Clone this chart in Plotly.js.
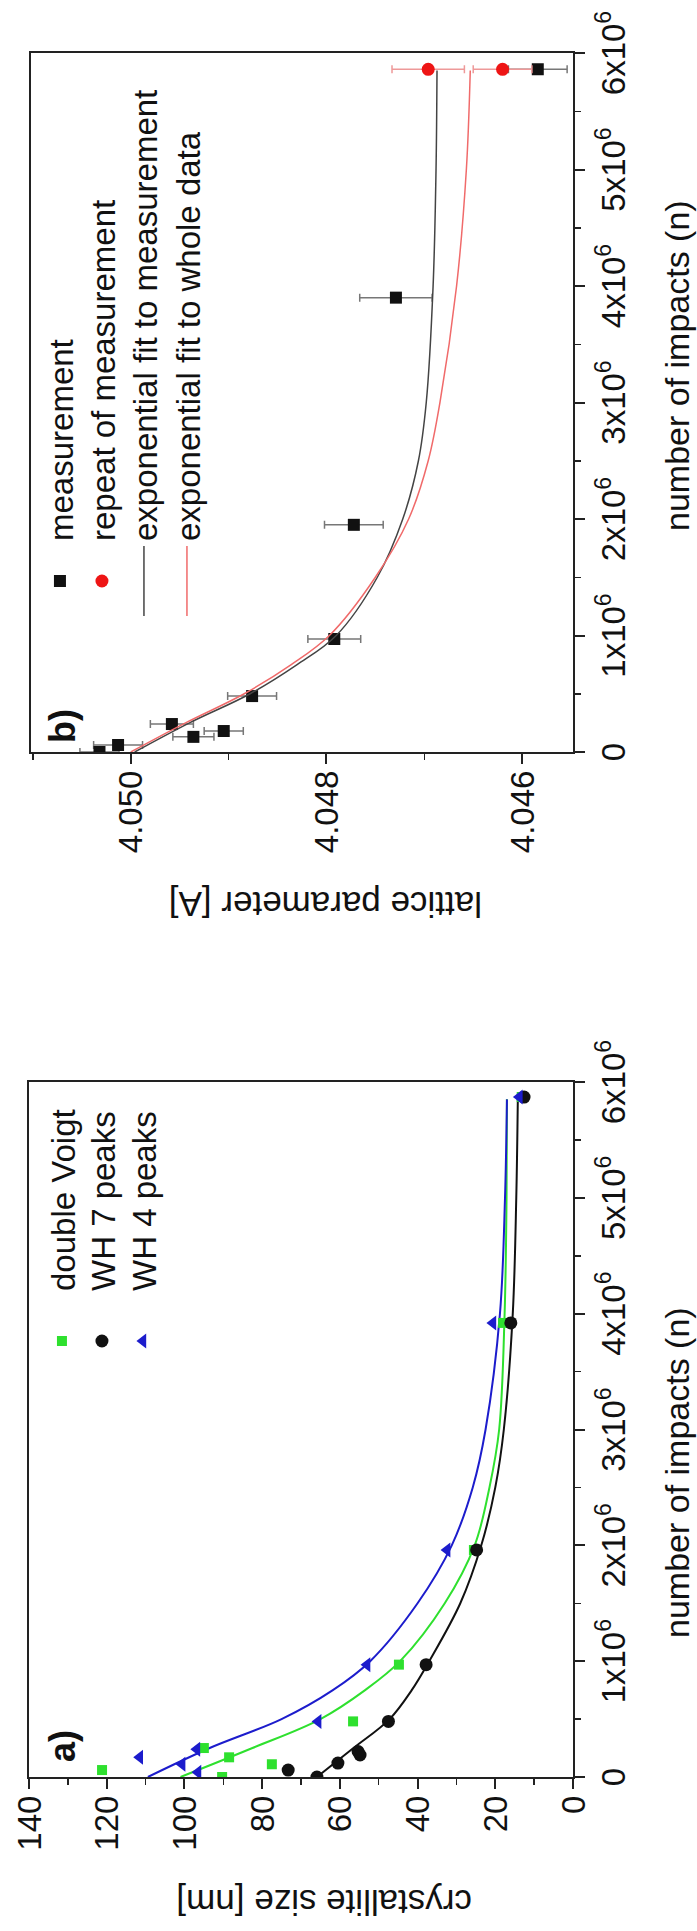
<!DOCTYPE html>
<html>
<head>
<meta charset="utf-8">
<script src="https://cdn.plot.ly/plotly-3.0.1.min.js"></script>
<style>
  html, body { margin: 0; padding: 0; background: #ffffff; overflow: hidden; }
  #wrap { position: absolute; left: 0; top: 0; width: 697px; height: 1931px; overflow: hidden; }
  #chart { position: absolute; left: 0; top: 0; width: 1931px; height: 697px;
           transform-origin: 0 0; transform: translateY(1931px) rotate(-90deg); }
</style>
</head>
<body>
<div id="wrap"><div id="chart"></div></div>
<script>
// ---------- panel a) crystallite size ----------
const dvX  = [0, 0.06e6, 0.11e6, 0.17e6, 0.25e6, 0.48e6, 0.97e6, 1.96e6, 3.92e6, 5.87e6];
const dvY  = [90.3, 121.2, 77.5, 88.5, 95.0, 56.6, 44.8, 25.5, 18.0, 13.2];
const wh7X = [0, 0.06e6, 0.12e6, 0.19e6, 0.22e6, 0.48e6, 0.97e6, 1.96e6, 3.92e6, 5.87e6];
const wh7Y = [65.9, 73.3, 60.5, 54.8, 55.3, 47.5, 37.8, 24.8, 16.0, 12.6];
const wh4X = [0.04e6, 0.11e6, 0.17e6, 0.24e6, 0.48e6, 0.97e6, 1.96e6, 3.92e6, 5.87e6];
const wh4Y = [96.5, 100.6, 111.5, 96.8, 65.6, 53.0, 32.4, 20.6, 13.8];

// fitted curves
const fitX    = [0, 0.25e6, 0.5e6, 0.75e6, 1e6, 1.5e6, 2e6, 2.5e6, 3e6, 4e6, 5e6, 5.85e6];
const fitDvY  = [101.0, 82.5, 65.0, 53.5, 44.5, 33.0, 25.3, 21.5, 19.0, 17.6, 17.1, 17.0];
const fitWh7Y = [65.9, 56.5, 47.2, 41.5, 37.0, 29.0, 23.6, 20.0, 17.8, 15.5, 14.6, 14.2];
const fitWh4Y = [109.4, 93.5, 75.0, 61.8, 52.2, 40.0, 31.2, 25.8, 22.5, 18.8, 17.5, 17.0];

// ---------- panel b) lattice parameter ----------
const measX   = [0, 0.06e6, 0.13e6, 0.18e6, 0.24e6, 0.48e6, 0.97e6, 1.95e6, 3.90e6, 5.86e6];
const measY   = [4.05032, 4.05013, 4.04936, 4.04905, 4.04958, 4.04876, 4.04792, 4.04772, 4.04729, 4.04584];
const measErr = [0.00020, 0.00025, 0.00021, 0.00020, 0.00022, 0.00025, 0.00027, 0.00030, 0.00037, 0.00030];
const repX    = [5.86e6, 5.86e6];
const repY    = [4.04696, 4.04620];
const repErr  = [0.00037, 0.00030];
const fitMeasY  = [4.04996, 4.04940, 4.04878, 4.04830, 4.04790, 4.04748, 4.04722, 4.04706, 4.04698, 4.04691, 4.04688, 4.04687];
const fitWholeY = [4.05000, 4.04944, 4.04884, 4.04836, 4.04797, 4.04750, 4.04716, 4.04696, 4.04684, 4.04667, 4.04657, 4.04653];

// tick labels and legend texts
const xTickVals = [0, 1e6, 2e6, 3e6, 4e6, 5e6, 6e6];
const xTickText = ['0', '1x10<sup>6</sup>', '2x10<sup>6</sup>', '3x10<sup>6</sup>', '4x10<sup>6</sup>', '5x10<sup>6</sup>', '6x10<sup>6</sup>'];
const aYTickVals = [0, 20, 40, 60, 80, 100, 120, 140];
const bYTickVals = [4.046, 4.048, 4.050];
const bYTickText = ['4.046', '4.048', '4.050'];
const legendA = ['double Voigt', 'WH 7 peaks', 'WH 4 peaks'];
const legendB = ['measurement', 'repeat of measurement', 'exponential fit to measurement', 'exponential fit to whole data'];

const FONT = 'Liberation Sans, Arial, Helvetica, sans-serif';
const W = 1931, H = 697;
const GREEN = '#2ee02e', BLACK = '#111111', BLUE = '#1c1ccc', RED = '#ee1515';

const traces = [
  // panel a fits
  {x: fitX, y: fitDvY,  mode: 'lines', line: {color: GREEN, width: 2, shape: 'spline'}, showlegend: false, xaxis: 'x', yaxis: 'y', hoverinfo: 'skip'},
  {x: fitX, y: fitWh7Y, mode: 'lines', line: {color: BLACK, width: 2, shape: 'spline'}, showlegend: false, xaxis: 'x', yaxis: 'y', hoverinfo: 'skip'},
  {x: fitX, y: fitWh4Y, mode: 'lines', line: {color: BLUE,  width: 2, shape: 'spline'}, showlegend: false, xaxis: 'x', yaxis: 'y', hoverinfo: 'skip'},
  // panel a points
  {x: dvX,  y: dvY,  mode: 'markers', name: legendA[0], marker: {symbol: 'square', size: 10, color: GREEN}, xaxis: 'x', yaxis: 'y', legend: 'legend'},
  {x: wh7X, y: wh7Y, mode: 'markers', name: legendA[1], marker: {symbol: 'circle', size: 13, color: BLACK}, xaxis: 'x', yaxis: 'y', legend: 'legend2'},
  {x: wh4X, y: wh4Y, mode: 'markers', name: legendA[2], marker: {symbol: 'triangle-up', size: 13, color: BLUE}, xaxis: 'x', yaxis: 'y', legend: 'legend3'},
  // panel b
  {x: measX, y: measY, mode: 'markers', name: legendB[0], marker: {symbol: 'square', size: 12, color: BLACK},
   error_y: {type: 'data', array: measErr, visible: true, color: '#777777', thickness: 1.5, width: 4},
   xaxis: 'x2', yaxis: 'y2', legend: 'legend4'},
  {x: repX, y: repY, mode: 'markers', name: legendB[1], marker: {symbol: 'circle', size: 13, color: RED},
   error_y: {type: 'data', array: repErr, visible: true, color: '#ee9999', thickness: 1.5, width: 4},
   xaxis: 'x2', yaxis: 'y2', legend: 'legend5'},
  {x: fitX, y: fitMeasY, mode: 'lines', name: legendB[2], line: {color: '#444444', width: 1.5, shape: 'spline'}, xaxis: 'x2', yaxis: 'y2', legend: 'legend6'},
  {x: fitX, y: fitWholeY, mode: 'lines', name: legendB[3], line: {color: '#f06a6a', width: 1.5, shape: 'spline'}, xaxis: 'x2', yaxis: 'y2', legend: 'legend7'}
];

const axisCommon = {
  showline: true, mirror: true, linecolor: '#222222', linewidth: 2,
  ticks: 'outside', ticklen: 10, tickwidth: 2, tickcolor: '#222222',
  showgrid: false, zeroline: false, automargin: false,
  tickfont: {family: FONT, size: 33, color: '#111111'}
};

function legendAt(xPix, rowPix, itemW) {
  return {
    x: xPix / W, y: 1 - rowPix / H, xanchor: 'left', yanchor: 'middle',
    bgcolor: 'rgba(0,0,0,0)', borderwidth: 0, itemwidth: itemW,
    font: {family: FONT, size: 33, color: '#111111'}
  };
}

const layout = {
  width: W, height: H,
  margin: {l: 0, r: 0, t: 0, b: 0},
  paper_bgcolor: '#ffffff', plot_bgcolor: '#ffffff',
  font: {family: FONT, color: '#111111'},
  xaxis: Object.assign({}, axisCommon, {
    domain: [154 / W, 849 / W], range: [0, 6e6], anchor: 'y',
    tickvals: xTickVals, ticktext: xTickText,
    minor: {dtick: 5e5, tick0: 0, ticks: 'outside', ticklen: 6, tickwidth: 1.5, tickcolor: '#222222'}
  }),
  yaxis: Object.assign({}, axisCommon, {
    domain: [1 - 573 / H, 1 - 29 / H], range: [0, 140], anchor: 'x',
    tickvals: aYTickVals,
    minor: {dtick: 10, tick0: 0, ticks: 'outside', ticklen: 6, tickwidth: 1.5, tickcolor: '#222222'}
  }),
  xaxis2: Object.assign({}, axisCommon, {
    domain: [1179 / W, 1878 / W], range: [0, 6e6], anchor: 'y2',
    tickvals: xTickVals, ticktext: xTickText,
    minor: {dtick: 5e5, tick0: 0, ticks: 'outside', ticklen: 6, tickwidth: 1.5, tickcolor: '#222222'}
  }),
  yaxis2: Object.assign({}, axisCommon, {
    domain: [1 - 573 / H, 1 - 31 / H], range: [4.04548, 4.05102], anchor: 'x2',
    tickvals: bYTickVals, ticktext: bYTickText,
    minor: {dtick: 0.001, tick0: 4.046, ticks: 'outside', ticklen: 6, tickwidth: 1.5, tickcolor: '#222222'}
  }),
  legend:  legendAt(540, 62, 90),
  legend2: legendAt(540, 102, 90),
  legend3: legendAt(540, 143, 90),
  legend4: legendAt(1310, 60, 70),
  legend5: legendAt(1310, 102, 70),
  legend6: legendAt(1310, 144, 70),
  legend7: legendAt(1310, 187, 70),
  annotations: [
    {text: 'number of impacts (n)', xref: 'paper', yref: 'paper', x: 458 / W, y: 1 - 677 / H,
     xanchor: 'center', yanchor: 'middle', showarrow: false, font: {family: FONT, size: 34, color: '#111111'}},
    {text: 'number of impacts (n)', xref: 'paper', yref: 'paper', x: 1565 / W, y: 1 - 677 / H,
     xanchor: 'center', yanchor: 'middle', showarrow: false, font: {family: FONT, size: 34, color: '#111111'}},
    {text: 'crystallite size [nm]', xref: 'paper', yref: 'paper', x: 28 / W, y: 1 - 324 / H,
     xanchor: 'center', yanchor: 'middle', textangle: -90, showarrow: false, font: {family: FONT, size: 35, color: '#111111'}},
    {text: 'lattice parameter [A]', xref: 'paper', yref: 'paper', x: 1026 / W, y: 1 - 326 / H,
     xanchor: 'center', yanchor: 'middle', textangle: -90, showarrow: false, font: {family: FONT, size: 35, color: '#111111'}},
    {text: '<b>a)</b>', xref: 'paper', yref: 'paper', x: 185 / W, y: 1 - 62 / H,
     xanchor: 'center', yanchor: 'middle', showarrow: false, font: {family: FONT, size: 36, color: '#111111'}},
    {text: '<b>b)</b>', xref: 'paper', yref: 'paper', x: 1205 / W, y: 1 - 62 / H,
     xanchor: 'center', yanchor: 'middle', showarrow: false, font: {family: FONT, size: 36, color: '#111111'}}
  ]
};

Plotly.newPlot('chart', traces, layout, {staticPlot: true, displayModeBar: false});
</script>
</body>
</html>
